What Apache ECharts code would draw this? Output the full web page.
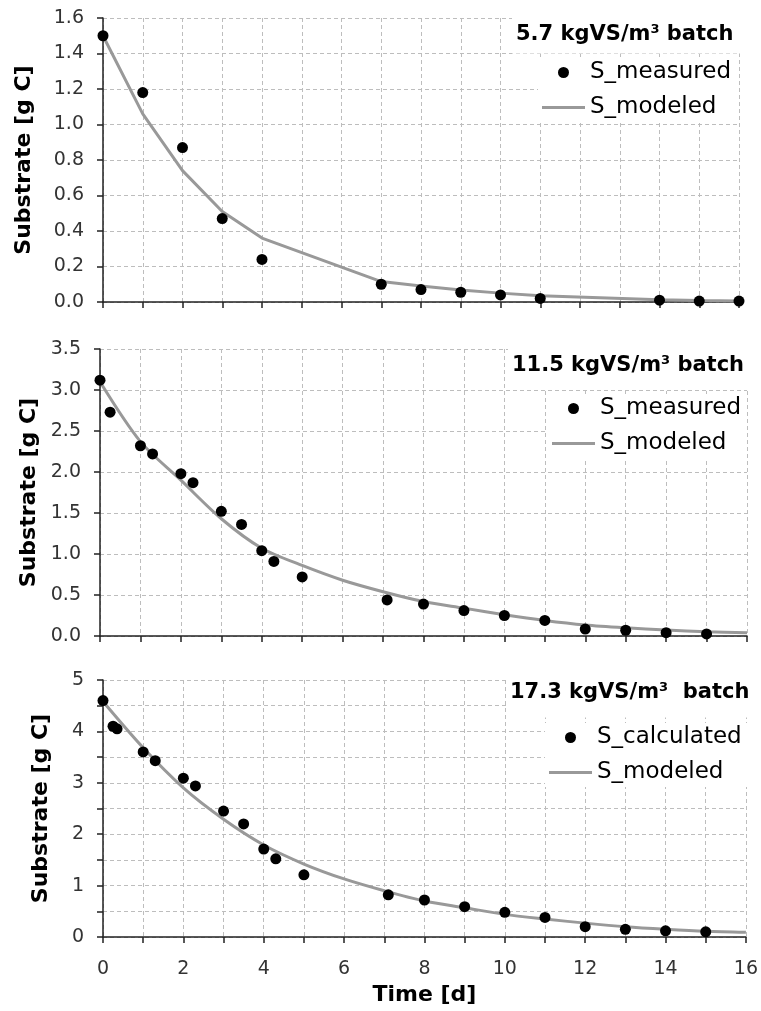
<!DOCTYPE html>
<html>
<head>
<meta charset="utf-8">
<script src="https://cdn.jsdelivr.net/npm/echarts@6/dist/echarts.min.js"></script>
<style>
  html, body { margin: 0; padding: 0; background: #fff; }
  #chart { width: 761px; height: 1011px; }
</style>
</head>
<body>
<div id="chart"></div>
<script>
  // panel 1: 5.7 kgVS/m3 batch
  var time1 = [0, 1, 2, 3, 4, 7, 8, 9, 10, 11, 14, 15, 16];
  var measured1 = [1.50, 1.18, 0.87, 0.47, 0.24, 0.10, 0.07, 0.055, 0.04, 0.02, 0.01, 0.005, 0.005];
  var modeled1 = [1.50, 1.06, 0.74, 0.51, 0.36, 0.115, 0.09, 0.068, 0.05, 0.035, 0.012, 0.008, 0.005];

  // panel 2: 11.5 kgVS/m3 batch
  var time2 = [0, 0.25, 1, 1.3, 2, 2.3, 3, 3.5, 4, 4.3, 5, 7.1, 8, 9, 10, 11, 12, 13, 14, 15];
  var measured2 = [3.12, 2.73, 2.32, 2.22, 1.98, 1.87, 1.52, 1.36, 1.04, 0.91, 0.72, 0.44, 0.39, 0.31, 0.25, 0.19, 0.085, 0.07, 0.04, 0.025];
  var modelTime2 = [0, 1, 2, 3, 4, 5, 6, 7, 8, 9, 10, 11, 12, 13, 14, 15, 16];
  var modeled2 = [3.10, 2.37, 1.90, 1.43, 1.07, 0.86, 0.68, 0.54, 0.42, 0.34, 0.26, 0.19, 0.135, 0.10, 0.073, 0.053, 0.04];

  // panel 3: 17.3 kgVS/m3 batch
  var time3 = [0, 0.25, 0.35, 1, 1.3, 2, 2.3, 3, 3.5, 4, 4.3, 5, 7.1, 8, 9, 10, 11, 12, 13, 14, 15];
  var measured3 = [4.60, 4.10, 4.05, 3.60, 3.43, 3.09, 2.94, 2.45, 2.20, 1.71, 1.52, 1.21, 0.82, 0.72, 0.59, 0.48, 0.38, 0.20, 0.15, 0.12, 0.10];
  var modelTime3 = [0, 1, 2, 3, 4, 5, 6, 7, 8, 9, 10, 11, 12, 13, 14, 15, 16];
  var modeled3 = [4.58, 3.68, 2.90, 2.29, 1.79, 1.42, 1.13, 0.90, 0.70, 0.57, 0.44, 0.35, 0.27, 0.20, 0.15, 0.11, 0.09];

  var yMax = [1.6, 3.5, 5];
  var yStep = [0.2, 0.5, 0.5];
  var titleNum = ['5.7', '11.5', '17.3'];
  var titleTail = [' batch', ' batch', '  batch'];
  var pointName = ['S_measured', 'S_measured', 'S_calculated'];

  var font = 'DejaVu Sans';

  function pairs (xs, ys) {
    return xs.map(function (x, i) { return [x, ys[i]] })
  }

  var grids = [
    {left: 103, top: 18, width: 636, height: 284},
    {left: 100, top: 349, width: 647, height: 287},
    {left: 103, top: 680, width: 645, height: 257}
  ];
  var nameGaps = [68, 59, 51];
  var titlePos = [{left: 512, top: 14, pad: [9, 12, 8, 4]}, {left: 508, top: 345, pad: [9, 8, 13, 4]}, {left: 506, top: 672, pad: [9, 8, 14, 4]}];
  var legendPos = [{left: 538, top: 58}, {left: 548, top: 394}, {left: 545, top: 723}];

  var xAxes = [], yAxes = [], titles = [], legends = [];
  for (var i = 0; i < 3; i++) {
    xAxes.push({
      type: 'value', gridIndex: i, min: 0, max: 16, interval: 1,
      axisLine: {show: true, onZero: false, lineStyle: {color: '#222', width: 1.5}},
      axisTick: {show: true, length: 6, lineStyle: {color: '#222', width: 1.5}},
      splitLine: {show: true, lineStyle: {color: '#bdbdbd', type: [4, 3], width: 1}},
      axisLabel: {
        show: i === 2, margin: 23, color: '#333', fontSize: 19, fontFamily: font,
        formatter: function (v) { return v % 2 === 0 ? String(v) : '' }
      },
      name: i === 2 ? 'Time [d]' : '',
      nameLocation: 'middle', nameGap: 47,
      nameTextStyle: {fontSize: 22, fontWeight: 'bold', fontFamily: font, color: '#000'}
    });
    yAxes.push({
      type: 'value', gridIndex: i, min: 0, max: yMax[i], interval: yStep[i],
      axisLine: {show: true, lineStyle: {color: '#222', width: 1.5}},
      axisTick: {show: true, length: 6, lineStyle: {color: '#222', width: 1.5}},
      splitLine: {show: true, lineStyle: {color: '#bdbdbd', type: [4, 3], width: 1}},
      axisLabel: {
        margin: 19, color: '#333', fontSize: 19, fontFamily: font,
        formatter: i === 2
          ? function (v) { return v % 1 === 0 ? String(v) : '' }
          : function (v) { return v.toFixed(1) }
      },
      name: 'Substrate [g C]',
      nameLocation: 'middle', nameRotate: 90, nameGap: nameGaps[i],
      nameTextStyle: {fontSize: 22, fontWeight: 'bold', fontFamily: font, color: '#000'}
    });
    titles.push({
      text: '{a|' + titleNum[i] + ' kgVS/m}{s|3}{a|' + titleTail[i] + '}',
      left: titlePos[i].left, top: titlePos[i].top,
      padding: titlePos[i].pad,
      backgroundColor: '#fff',
      textStyle: {
        rich: {
          a: {fontSize: 21, fontWeight: 'bold', fontFamily: font, color: '#000', lineHeight: 24},
          s: {fontSize: 13, fontWeight: 'bold', fontFamily: font, color: '#000', verticalAlign: 'top', lineHeight: 14}
        }
      }
    });
    legends.push({
      orient: 'vertical', left: legendPos[i].left, top: legendPos[i].top,
      padding: [3, 6, 3, 4],
      backgroundColor: '#fff',
      itemWidth: 43, itemHeight: 11, itemGap: 12,
      data: [
        {name: pointName[i], icon: 'circle', itemStyle: {color: '#000', opacity: 1}},
        {name: 'S_modeled', icon: 'path://M0,0L43,0L43,3L0,3Z', itemStyle: {color: '#999999', opacity: 1}}
      ],
      textStyle: {fontSize: 23, fontFamily: font, color: '#000'},
      selectedMode: false
    });
  }

  var series = [
    {name: 'S_modeled', type: 'line', xAxisIndex: 0, yAxisIndex: 0, data: pairs(time1, modeled1)},
    {name: 'S_measured', type: 'scatter', xAxisIndex: 0, yAxisIndex: 0, data: pairs(time1, measured1)},
    {name: 'S_modeled', type: 'line', xAxisIndex: 1, yAxisIndex: 1, smooth: 0.3, data: pairs(modelTime2, modeled2)},
    {name: 'S_measured', type: 'scatter', xAxisIndex: 1, yAxisIndex: 1, data: pairs(time2, measured2)},
    {name: 'S_modeled', type: 'line', xAxisIndex: 2, yAxisIndex: 2, smooth: 0.3, data: pairs(modelTime3, modeled3)},
    {name: 'S_calculated', type: 'scatter', xAxisIndex: 2, yAxisIndex: 2, data: pairs(time3, measured3)}
  ];
  series.forEach(function (s) {
    if (s.type === 'line') {
      s.symbol = 'none'
      s.z = 2
      s.color = '#999999'
      s.lineStyle = {color: '#999999', width: 3}
    } else {
      s.symbolSize = 11
      s.z = 3
      s.color = '#000'
      s.itemStyle = {color: '#000', opacity: 1}
    }
  });

  var myChart = echarts.init(document.getElementById('chart'));
  myChart.setOption({
    animation: false,
    backgroundColor: '#fff',
    title: titles,
    legend: legends,
    grid: grids,
    xAxis: xAxes,
    yAxis: yAxes,
    series: series
  });
</script>
</body>
</html>
